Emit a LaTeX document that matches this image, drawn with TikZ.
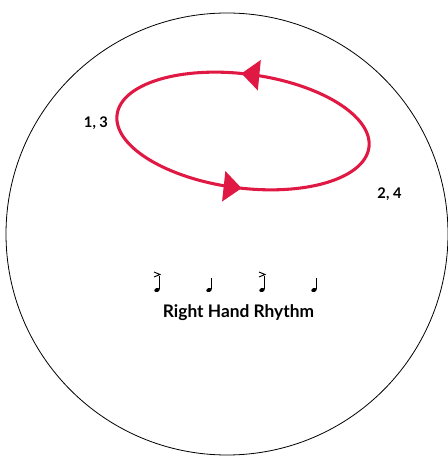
\documentclass[tikz,border=0pt]{standalone}
\usepackage{fontspec}
\setmainfont{Lato}
\usetikzlibrary{arrows.meta,decorations.markings}

\definecolor{loopred}{RGB}{224,24,68}

\tikzset{
  beatlabel/.style={font=\bfseries\fontsize{11}{13}\selectfont, anchor=base, inner sep=0pt},
  titlelabel/.style={font=\bfseries\fontsize{13}{15}\selectfont, anchor=base, inner sep=0pt},
  looparrow/.style={decoration={markings,
      mark=at position 0.265 with {\arrow{Triangle[length=13.5pt,width=22.5pt]}},
      mark=at position 0.76 with {\arrow{Triangle[length=13.5pt,width=22.5pt]}}},
    postaction={decorate}},
  notehead/.style={fill=black},
  notestem/.style={line width=0.6pt},
  accent/.style={line width=0.7pt},
}

\begin{document}
\begin{tikzpicture}[x=0.75pt,y=0.75pt]
\useasboundingbox (0,0) rectangle (447,457);

%%% 外枠
\draw[line width=0.6pt] (227,223) circle (221);

%% ループ
\begin{scope}[shift={(243,326)}, rotate=-7.4]
\draw[loopred, line width=2.3pt, looparrow] (0,0) ellipse (127 and 57);
\end{scope}

%% 拍
\node[beatlabel] (odd) at (96,329.3) {1, 3};
\node[beatlabel] (even) at (389.5,258.7) {2, 4};

%% 音符
\fill[notehead, rotate around={20:(157,167)}] (157,167) ellipse (2.8 and 2);
\draw[notestem] (159.5,167.5) -- (159.5,181);
\draw[accent] (154,185) -- (160,182.5) -- (154,180);

\fill[notehead, rotate around={20:(209,167)}] (209,167) ellipse (2.8 and 2);
\draw[notestem] (211.5,167.5) -- (211.5,179);

\fill[notehead, rotate around={20:(262,167)}] (262,167) ellipse (2.8 and 2);
\draw[notestem] (264.5,167.5) -- (264.5,181);
\draw[accent] (259,185) -- (265,182.5) -- (259,180);

\fill[notehead, rotate around={20:(314,167)}] (314,167) ellipse (2.8 and 2);
\draw[notestem] (316.5,167.5) -- (316.5,179);

%% 説明
\node[titlelabel] (title) at (238.5,139) {Right Hand Rhythm};

\end{tikzpicture}
\end{document}
